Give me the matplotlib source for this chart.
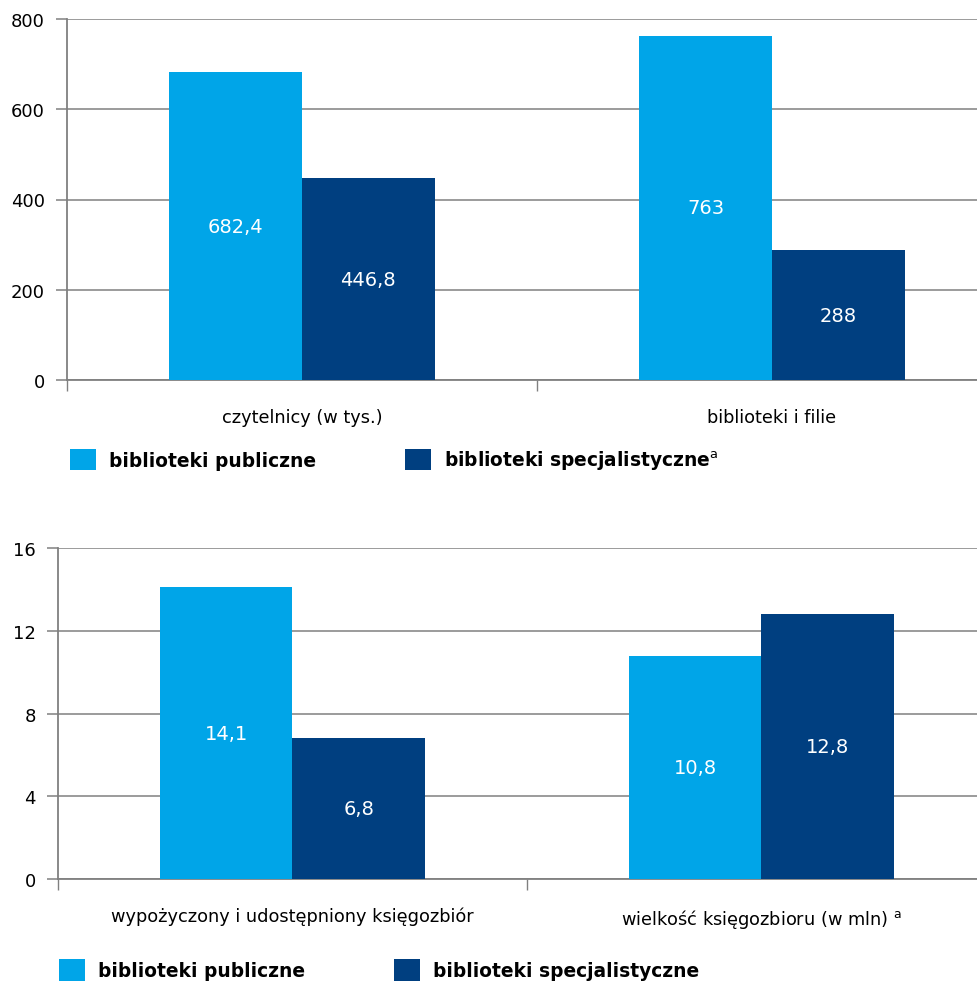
import matplotlib.pyplot as plt
import numpy as np

plt.rcParams['font.family'] = ['DejaVu Sans']
plt.rcParams['mathtext.fontset'] = 'dejavusans'

LIGHT = "#00a5e8"
DARK = "#003f80"
GRID = "#808080"

# data
series = ["biblioteki publiczne", "biblioteki specjalistyczne"]
top_cats = ["czytelnicy (w tys.)", "biblioteki i filie"]
top_public = [682.4, 763]
top_special = [446.8, 288]
top_labels_public = ["682,4", "763"]
top_labels_special = ["446,8", "288"]
top_ticks = [0, 200, 400, 600, 800]

bot_cats = ["wypożyczony i udostępniony księgozbiór", "wielkość księgozbioru (w mln) $^{\\mathrm{a}}$"]
bot_public = [14.1, 10.8]
bot_special = [6.8, 12.8]
bot_labels_public = ["14,1", "10,8"]
bot_labels_special = ["6,8", "12,8"]
bot_ticks = [0, 4, 8, 12, 16]

fig = plt.figure(figsize=(9.78, 9.87), dpi=100)
fig.patch.set_facecolor('white')


def draw(ax, cats, pub, spec, lab_pub, lab_spec, ticks, xmax, leg_y, leg_names, leg_x):
    x = np.arange(len(cats))
    w = 0.282
    b1 = ax.bar(x - w / 2, pub, w, color=LIGHT, zorder=3)
    b2 = ax.bar(x + w / 2, spec, w, color=DARK, zorder=3)
    for r, t in zip(b1, lab_pub):
        ax.text(r.get_x() + r.get_width() / 2, r.get_height() / 2, t, color='white',
                ha='center', va='center', fontsize=14, zorder=4)
    for r, t in zip(b2, lab_spec):
        ax.text(r.get_x() + r.get_width() / 2, r.get_height() / 2, t, color='white',
                ha='center', va='center', fontsize=14, zorder=4)
    ax.set_ylim(0, ticks[-1])
    ax.set_xlim(-0.5, xmax)
    ax.set_yticks(ticks)
    ax.set_yticklabels([str(t) for t in ticks], fontsize=13)
    ax.yaxis.grid(True, color=GRID, linewidth=1.1, zorder=1)
    ax.set_xticks([-0.5, 0.5])
    ax.set_xticklabels([])
    ax.set_xticks(x, minor=True)
    ax.set_xticklabels(cats, minor=True, fontsize=12.8)
    ax.tick_params(axis='x', which='minor', length=0, pad=20)
    ax.tick_params(axis='x', which='major', length=8, width=1, color=GRID)
    ax.tick_params(axis='y', length=8, width=1.1, color=GRID, pad=8)
    for s in ['top', 'right']:
        ax.spines[s].set_visible(False)
    for s in ['left', 'bottom']:
        ax.spines[s].set_color(GRID)
        ax.spines[s].set_linewidth(1.3)
    ax.set_axisbelow(True)
    leg = ax.legend([b1, b2], leg_names, loc='center left', bbox_to_anchor=(leg_x, leg_y),
                    bbox_transform=fig.transFigure, ncol=2, frameon=False,
                    prop={'weight': 'bold', 'size': 13.4}, handlelength=1.4, handleheight=1.4,
                    handletextpad=0.7, columnspacing=4.8, borderpad=0, borderaxespad=0)
    return leg


ax1 = fig.add_axes([67 / 978, 1 - 381 / 987, 911 / 978, 361 / 987])
draw(ax1, top_cats, top_public, top_special, top_labels_public, top_labels_special,
     top_ticks, -0.5 + 911 / 470, 1 - 461 / 987,
     [series[0], series[1] + "$^{\\mathrm{a}}$"], 70 / 978)

ax2 = fig.add_axes([58 / 978, 1 - 880 / 987, 920 / 978, 331 / 987])
draw(ax2, bot_cats, bot_public, bot_special, bot_labels_public, bot_labels_special,
     bot_ticks, -0.5 + 920 / 469, 1 - 971 / 987, series, 59 / 978)

fig.savefig("out.png", dpi=100)
